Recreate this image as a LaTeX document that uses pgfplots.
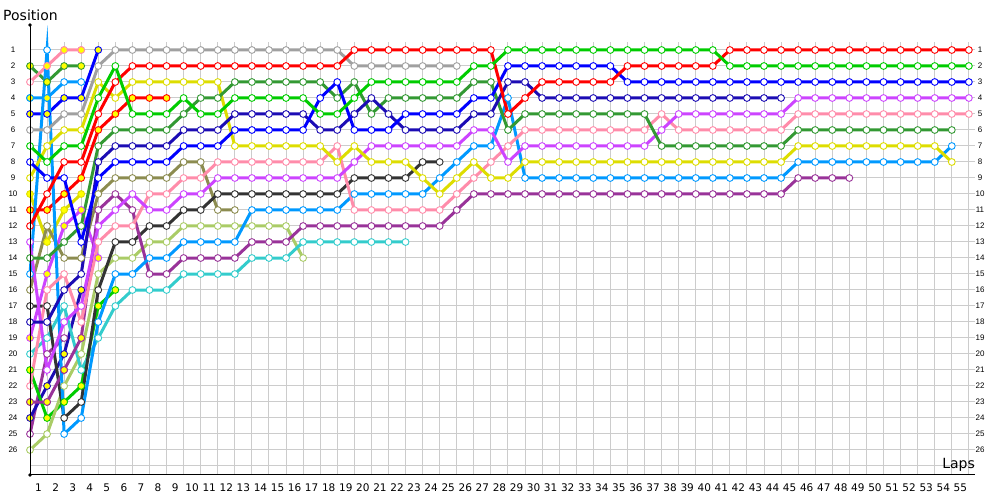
\documentclass[border=0pt]{standalone}
\usepackage{fontspec}
\setmainfont{DejaVu Sans}
\newfontfamily\lab{Liberation Sans}
\usepackage{pgfplots}
\pgfplotsset{compat=1.18}
\definecolor{cgray}{HTML}{A0A0A0}
\definecolor{cred}{HTML}{FF0000}
\definecolor{cgreen}{HTML}{00CC00}
\definecolor{cdgreen}{HTML}{339933}
\definecolor{cyellow}{HTML}{DDDD00}
\definecolor{cblue}{HTML}{0000FF}
\definecolor{cnavy}{HTML}{1C0CB4}
\definecolor{colive}{HTML}{8C8C50}
\definecolor{cpink}{HTML}{FF8CAA}
\definecolor{cviolet}{HTML}{CC44FF}
\definecolor{cpurple}{HTML}{993399}
\definecolor{cblack}{HTML}{333333}
\definecolor{csky}{HTML}{0099FF}
\definecolor{clolive}{HTML}{AACC66}
\definecolor{ccyan}{HTML}{33CCCC}
\definecolor{cfill}{HTML}{FFFF00}
\definecolor{cgrid}{HTML}{CCCCCC}
\pgfplotsset{
  drv/.style={color=#1, line width=3pt, mark=*, mark size=3.4pt,
    mark options={solid, fill=white, draw=#1, line width=0.9pt}},
  drvY/.style={color=#1, line width=3pt, mark=*, mark size=3.4pt,
    mark options={solid, fill=cfill, draw=#1, line width=0.9pt}},
  fillY/.style={only marks, mark=*, mark size=3.4pt,
    mark options={solid, fill=cfill, draw=#1, line width=0.9pt}},
}
\begin{document}
\begin{tikzpicture}[x=1pt,y=1pt]
\path[use as bounding box] (0,0) rectangle (1000,500);
% grid
\foreach \k in {0,...,55} \draw[cgrid, line width=1pt] ({30+17.07*\k},25) -- ({30+17.07*\k},458);
\foreach \p in {1,...,27} \draw[cgrid, line width=1pt] (30,{466-16*\p}) -- (975,{466-16*\p});
\begin{axis}[at={(30pt,25pt)}, anchor=south west, scale only axis,
  width=945pt, height=450pt, xmin=0, xmax=55.36,
  ymin=-0.5625, ymax=27.5625, y dir=reverse, axis lines=none, clip=false]
% purple2
\addplot[drv=cpurple] coordinates {(0,25)(1,20)(2,19)};
% navyY
\addplot[drvY=cnavy] coordinates {(0,24)(1,22)(2,20)(3,16)};
% violetY
\addplot[drvY=cviolet] coordinates {(0,19)(1,15)(2,12)(3,11)(4,14)};
% yellowY
\addplot[drvY=cyellow] coordinates {(0,10)(1,13)(2,11)(3,10)};
% skyY
\addplot[drv=csky] coordinates {(0,4)(1,4)(2,3)(3,3)};
\addplot[fillY=csky] coordinates {(0,4)(1,4)};
% dgY
\addplot[drvY=cdgreen] coordinates {(0,2)(1,3)(2,2)(3,2)};
% pinkY
\addplot[drv=cpink] coordinates {(0,3)(1,2)(2,1)(3,1)};
\addplot[fillY=cpink] coordinates {(1,2)(2,1)(3,1)};
% blueY
\addplot[drvY=cblue] coordinates {(0,5)(1,5)(2,4)(3,4)(4,1)};
% greenY
\addplot[drvY=cgreen] coordinates {(0,21)(1,24)(2,23)(3,22)(4,17)(5,16)};
% redY
\addplot[drvY=cred] coordinates {(0,11)(1,11)(2,10)(3,9)(4,6)(5,5)(6,4)(7,4)(8,4)};
% lightolive
\addplot[drv=clolive] coordinates {(0,26)(1,25)(2,22)(3,20)(4,15)(5,14)(6,14)(7,13)(8,13)(9,12)(10,12)(11,12)(12,12)(13,12)(14,12)(15,12)(16,14)};
% cyan
\addplot[drv=ccyan] coordinates {(0,20)(1,19)(2,17)(3,21)(4,19)(5,17)(6,16)(7,16)(8,16)(9,15)(10,15)(11,15)(12,15)(13,14)(14,14)(15,14)(16,13)(17,13)(18,13)(19,13)(20,13)(21,13)(22,13)};
% olive
\addplot[drv=colive] coordinates {(0,16)(1,12)(2,14)(3,14)(4,10)(5,9)(6,9)(7,9)(8,9)(9,8)(10,8)(11,11)(12,11)};
% black
\addplot[drv=cblack] coordinates {(0,17)(1,17)(2,24)(3,23)(4,16)(5,13)(6,13)(7,12)(8,12)(9,11)(10,11)(11,10)(12,10)(13,10)(14,10)(15,10)(16,10)(17,10)(18,10)(19,9)(20,9)(21,9)(22,9)(23,8)(24,8)};
% purple
\addplot[drv=cpurple] coordinates {(0,23)(1,23)(2,21)(3,19)(4,11)(5,10)(6,11)(7,15)(8,15)(9,14)(10,14)(11,14)(12,14)(13,13)(14,13)(15,13)(16,12)(17,12)(18,12)(19,12)(20,12)(21,12)(22,12)(23,12)(24,12)(25,11)(26,10)(27,10)(28,10)(29,10)(30,10)(31,10)(32,10)(33,10)(34,10)(35,10)(36,10)(37,10)(38,10)(39,10)(40,10)(41,10)(42,10)(43,10)(44,10)(45,9)(46,9)(47,9)(48,9)};
\addplot[fillY=cpurple] coordinates {(0,23)(1,23)(2,21)(3,19)};
% skyblue
\addplot[drv=csky, miter limit=20] coordinates {(0,15)(1,1)(2,25)(3,24)(4,18)(5,15)(6,15)(7,14)(8,14)(9,13)(10,13)(11,13)(12,13)(13,11)(14,11)(15,11)(16,11)(17,11)(18,11)(19,10)(20,10)(21,10)(22,10)(23,10)(24,9)(25,8)(26,7)(27,7)(28,4)(29,9)(30,9)(31,9)(32,9)(33,9)(34,9)(35,9)(36,9)(37,9)(38,9)(39,9)(40,9)(41,9)(42,9)(43,9)(44,9)(45,8)(46,8)(47,8)(48,8)(49,8)(50,8)(51,8)(52,8)(53,8)(54,7)};
% pink
\addplot[drv=cpink] coordinates {(0,22)(1,16)(2,15)(3,18)(4,13)(5,12)(6,12)(7,10)(8,10)(9,9)(10,9)(11,8)(12,8)(13,8)(14,8)(15,8)(16,8)(17,8)(18,7)(19,11)(20,11)(21,11)(22,11)(23,11)(24,11)(25,10)(26,9)(27,8)(28,7)(29,6)(30,6)(31,6)(32,6)(33,6)(34,6)(35,6)(36,6)(37,5)(38,6)(39,6)(40,6)(41,6)(42,6)(43,6)(44,6)(45,5)(46,5)(47,5)(48,5)(49,5)(50,5)(51,5)(52,5)(53,5)(54,5)(55,5)};
% violet
\addplot[drv=cviolet] coordinates {(0,13)(1,21)(2,18)(3,17)(4,12)(5,11)(6,10)(7,11)(8,11)(9,10)(10,10)(11,9)(12,9)(13,9)(14,9)(15,9)(16,9)(17,9)(18,9)(19,8)(20,7)(21,7)(22,7)(23,7)(24,7)(25,7)(26,6)(27,6)(28,8)(29,7)(30,7)(31,7)(32,7)(33,7)(34,7)(35,7)(36,7)(37,6)(38,5)(39,5)(40,5)(41,5)(42,5)(43,5)(44,5)(45,4)(46,4)(47,4)(48,4)(49,4)(50,4)(51,4)(52,4)(53,4)(54,4)(55,4)};
% yellow
\addplot[drv=cyellow] coordinates {(0,9)(1,7)(2,6)(3,6)(4,3)(5,4)(6,3)(7,3)(8,3)(9,3)(10,3)(11,3)(12,7)(13,7)(14,7)(15,7)(16,7)(17,7)(18,8)(19,7)(20,8)(21,8)(22,8)(23,9)(24,10)(25,9)(26,8)(27,9)(28,9)(29,8)(30,8)(31,8)(32,8)(33,8)(34,8)(35,8)(36,8)(37,8)(38,8)(39,8)(40,8)(41,8)(42,8)(43,8)(44,8)(45,7)(46,7)(47,7)(48,7)(49,7)(50,7)(51,7)(52,7)(53,7)(54,8)};
% darkgreen
\addplot[drv=cdgreen] coordinates {(0,14)(1,14)(2,13)(3,12)(4,7)(5,6)(6,6)(7,6)(8,6)(9,5)(10,4)(11,4)(12,3)(13,3)(14,3)(15,3)(16,3)(17,3)(18,4)(19,3)(20,5)(21,4)(22,4)(23,4)(24,4)(25,4)(26,3)(27,3)(28,6)(29,5)(30,5)(31,5)(32,5)(33,5)(34,5)(35,5)(36,5)(37,7)(38,7)(39,7)(40,7)(41,7)(42,7)(43,7)(44,7)(45,6)(46,6)(47,6)(48,6)(49,6)(50,6)(51,6)(52,6)(53,6)(54,6)};
% navy
\addplot[drv=cnavy] coordinates {(0,18)(1,18)(2,16)(3,15)(4,8)(5,7)(6,7)(7,7)(8,7)(9,6)(10,6)(11,6)(12,5)(13,5)(14,5)(15,5)(16,5)(17,6)(18,6)(19,5)(20,4)(21,5)(22,6)(23,6)(24,6)(25,6)(26,5)(27,5)(28,3)(29,3)(30,4)(31,4)(32,4)(33,4)(34,4)(35,4)(36,4)(37,4)(38,4)(39,4)(40,4)(41,4)(42,4)(43,4)(44,4)};
% blue
\addplot[drv=cblue] coordinates {(0,8)(1,9)(2,9)(3,13)(4,9)(5,8)(6,8)(7,8)(8,8)(9,7)(10,7)(11,7)(12,6)(13,6)(14,6)(15,6)(16,6)(17,4)(18,3)(19,6)(20,6)(21,6)(22,5)(23,5)(24,5)(25,5)(26,4)(27,4)(28,2)(29,2)(30,2)(31,2)(32,2)(33,2)(34,2)(35,3)(36,3)(37,3)(38,3)(39,3)(40,3)(41,3)(42,3)(43,3)(44,3)(45,3)(46,3)(47,3)(48,3)(49,3)(50,3)(51,3)(52,3)(53,3)(54,3)(55,3)};
% gray
\addplot[drv=cgray] coordinates {(0,6)(1,6)(2,5)(3,5)(4,2)(5,1)(6,1)(7,1)(8,1)(9,1)(10,1)(11,1)(12,1)(13,1)(14,1)(15,1)(16,1)(17,1)(18,1)(19,2)(20,2)(21,2)(22,2)(23,2)(24,2)(25,2)};
% red
\addplot[drv=cred] coordinates {(0,12)(1,10)(2,8)(3,8)(4,5)(5,3)(6,2)(7,2)(8,2)(9,2)(10,2)(11,2)(12,2)(13,2)(14,2)(15,2)(16,2)(17,2)(18,2)(19,1)(20,1)(21,1)(22,1)(23,1)(24,1)(25,1)(26,1)(27,1)(28,5)(29,4)(30,3)(31,3)(32,3)(33,3)(34,3)(35,2)(36,2)(37,2)(38,2)(39,2)(40,2)(41,1)(42,1)(43,1)(44,1)(45,1)(46,1)(47,1)(48,1)(49,1)(50,1)(51,1)(52,1)(53,1)(54,1)(55,1)};
% green
\addplot[drv=cgreen] coordinates {(0,7)(1,8)(2,7)(3,7)(4,4)(5,2)(6,5)(7,5)(8,5)(9,4)(10,5)(11,5)(12,4)(13,4)(14,4)(15,4)(16,4)(17,5)(18,5)(19,4)(20,3)(21,3)(22,3)(23,3)(24,3)(25,3)(26,2)(27,2)(28,1)(29,1)(30,1)(31,1)(32,1)(33,1)(34,1)(35,1)(36,1)(37,1)(38,1)(39,1)(40,1)(41,2)(42,2)(43,2)(44,2)(45,2)(46,2)(47,2)(48,2)(49,2)(50,2)(51,2)(52,2)(53,2)(54,2)(55,2)};
\end{axis}
% axis lines
\draw[black, line width=1pt] (30,25) -- (30,475);
\draw[black, line width=1pt] (30,25) -- (975,25);
\fill[black] (30,475) circle (1.8);
\fill[black] (30,25) circle (1.8);
% labels
\node[anchor=west, inner sep=0pt, font=\fontsize{14}{16}\selectfont] at (3,485) {Position};
\node[anchor=east, inner sep=0pt, font=\fontsize{14}{16}\selectfont] at (975,35) {Laps};
\foreach \k in {1,...,55} \node[inner sep=0pt, font=\fontsize{10.5}{12}\selectfont] at ({30+17.07*(\k-0.5)},12) {\k};
\foreach \p in {1,...,26} {
  \node[inner sep=0pt, font=\lab\fontsize{8}{9}\selectfont] at (13,{466-16*\p}) {\p};
  \node[inner sep=0pt, font=\lab\fontsize{8}{9}\selectfont] at (980,{466-16*\p}) {\p};
}
\end{tikzpicture}
\end{document}
